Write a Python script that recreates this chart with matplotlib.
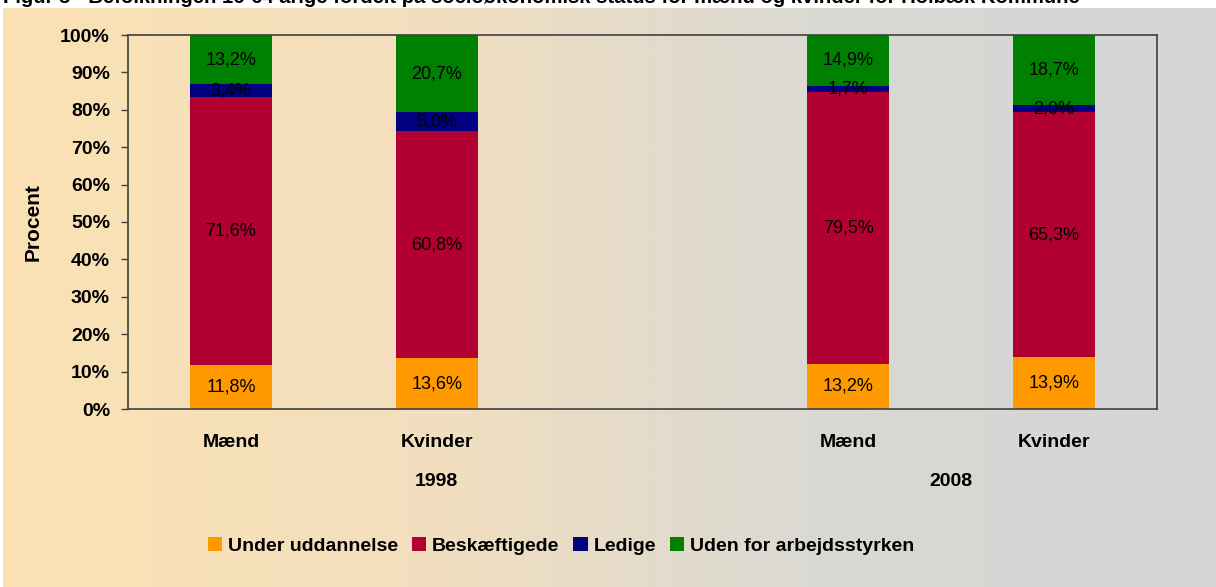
import numpy as np
import matplotlib
matplotlib.use("Agg")
import matplotlib.pyplot as plt
from matplotlib.colors import LinearSegmentedColormap

plt.rcParams['font.family'] = ['Liberation Sans', 'DejaVu Sans']

# ---- data ----
groups = ["1998", "2008"]
categories = ["Mænd", "Kvinder", "Mænd", "Kvinder"]
cat_group = ["1998", "1998", "2008", "2008"]
series = ["Under uddannelse", "Beskæftigede", "Ledige", "Uden for arbejdsstyrken"]
under_uddannelse = [11.8, 13.6, 13.2, 13.9]
beskaeftigede = [71.6, 60.8, 79.5, 65.3]
ledige = [3.4, 5.0, 1.7, 2.0]
uden_for = [13.2, 20.7, 14.9, 18.7]
yticks = [0, 10, 20, 30, 40, 50, 60, 70, 80, 90, 100]
title = "Figur 5 - Befolkningen 16-64 årige fordelt på socioøkonomisk status for mænd og kvinder for Holbæk Kommune"

colors = ["#FF9900", "#B30033", "#000080", "#008000"]

W, H = 1216, 587
fig = plt.figure(figsize=(W / 100, H / 100), dpi=100, facecolor="white")

# gradient background
bg = fig.add_axes([3 / W, 0, 1 - 3 / W, (H - 8) / H])
cmap = LinearSegmentedColormap.from_list("bg", ["#FBE2B4", "#F3DFBE", "#DAD9D3", "#D3D5D7"])
grad = np.linspace(0, 1, 512).reshape(1, -1)
bg.imshow(grad, aspect="auto", cmap=cmap, extent=[0, 1, 0, 1])
bg.set_axis_off()

fig.text(3 / W, 1 + 3 / H, title, fontsize=14.6, fontweight="bold", ha="left", va="center")

ax = fig.add_axes([128 / W, (H - 409) / H, (1157 - 128) / W, (409 - 35) / H])
ax.patch.set_alpha(0)

pos = [0, 1, 3, 4]
data = np.array([under_uddannelse, beskaeftigede, ledige, uden_for])
totals = data.sum(axis=0)
norm = data / totals * 100

bottom = np.zeros(len(pos))
for i, name in enumerate(series):
    ax.bar(pos, norm[i], bottom=bottom, width=0.4, color=colors[i], label=name, zorder=2)
    for j, p in enumerate(pos):
        lbl = f"{data[i][j]:.1f}".replace(".", ",") + "%"
        ax.text(p, bottom[j] + norm[i][j] / 2, lbl, ha="center", va="center",
                fontsize=13, color="black", zorder=3)
    bottom += norm[i]

ax.set_xlim(-0.5, 4.5)
ax.set_ylim(0, 100)
ax.set_yticks(yticks)
ax.set_yticklabels([f"{v}%" for v in yticks], fontsize=14, fontweight="bold")
ax.set_xticks(pos)
ax.set_xticklabels(categories, fontsize=14, fontweight="bold")
ax.tick_params(axis="x", length=0, pad=18)
ax.tick_params(axis="y", length=5, width=1, color="#404040", pad=8)
for s in ax.spines.values():
    s.set_color("#404040")
    s.set_linewidth(1.2)

# year labels
group_centers = {"1998": 1.0, "2008": 3.5}
for g in groups:
    ax.text(group_centers[g], -0.193, g, transform=ax.get_xaxis_transform(),
            ha="center", va="center", fontsize=14, fontweight="bold")

fig.text(33 / W, 1 - 222 / H, "Procent", rotation=90, fontsize=15, fontweight="bold",
         ha="center", va="center")

fig.legend(loc="center", bbox_to_anchor=(561 / W, 1 - 546 / H), ncol=4, frameon=False,
           prop={"weight": "bold", "size": 14}, handlelength=0.75, handleheight=0.75,
           handletextpad=0.3, columnspacing=0.7)

fig.savefig("out.png", dpi=100)
